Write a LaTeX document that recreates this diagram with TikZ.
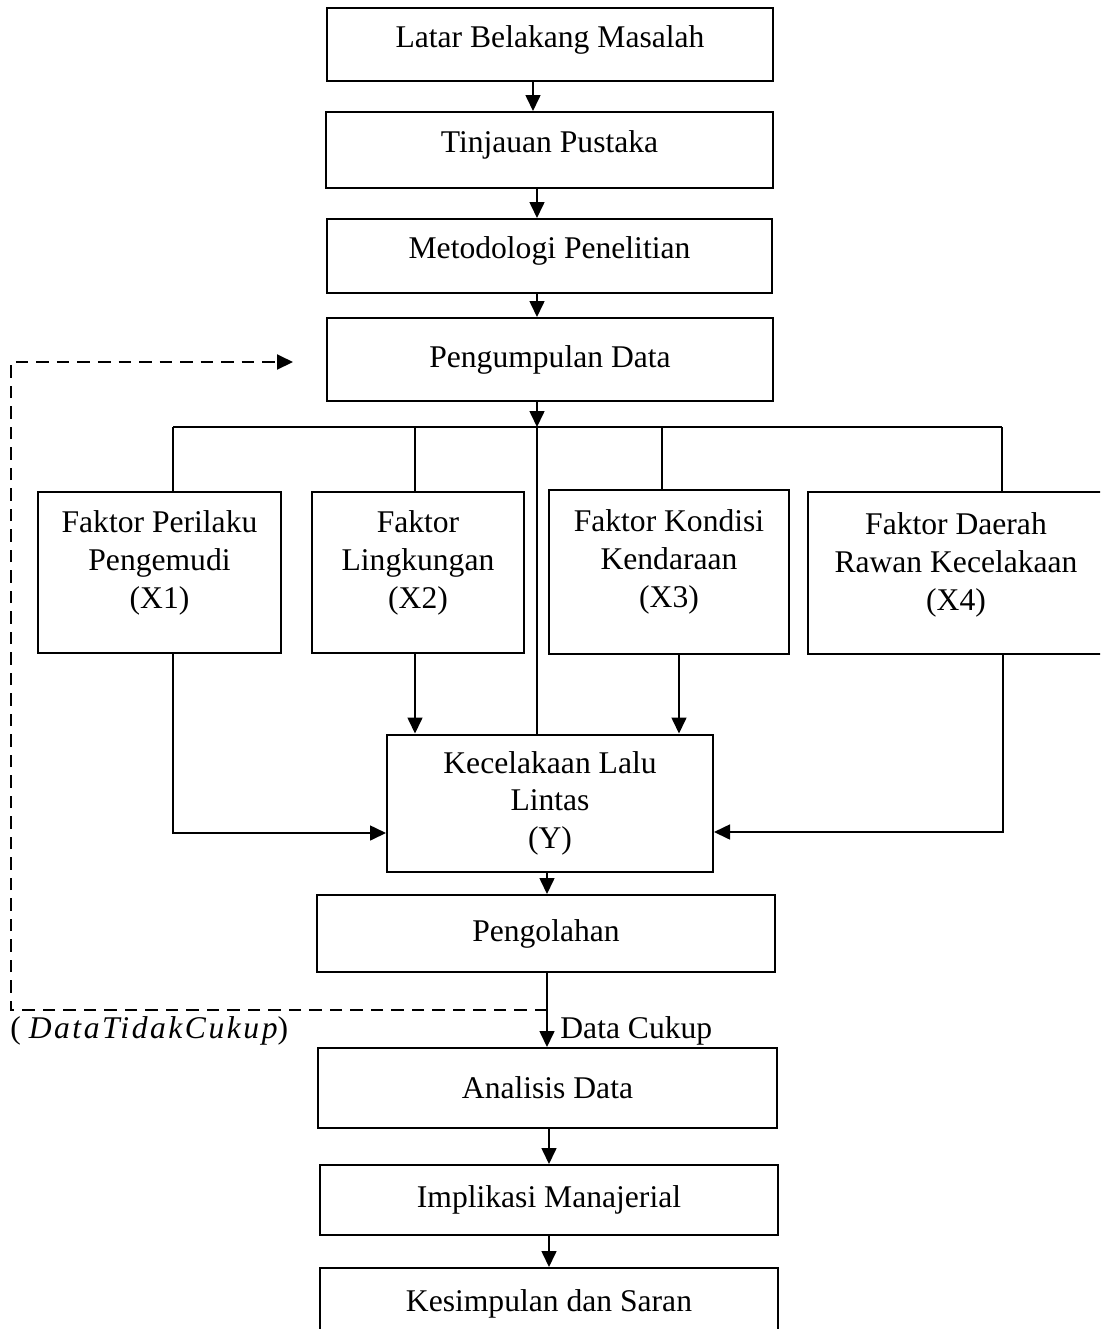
\documentclass[tikz,border=0pt]{standalone}
\usepackage{fontspec}
\setmainfont{Liberation Serif}
\usetikzlibrary{arrows.meta}

\begin{document}
\begin{tikzpicture}[x=0.5pt,y=-0.5pt,>={Triangle[length=8pt,width=7.5pt]},
    every node/.style={font=\fontsize{15.8}{19}\selectfont}]
\clip (0,0) rectangle (1100,1329);
\begin{scope}[every node/.style={rectangle,draw,line width=1pt,inner sep=0pt,
              align=center,font=\fontsize{15.8}{19}\selectfont}]
    \node[minimum width=223pt,minimum height=36.5pt,text depth=8pt] (S1) at (550,44.5) {Latar Belakang Masalah};
    \node[minimum width=223.5pt,minimum height=38pt,text depth=8pt] (S2) at (549.5,150) {Tinjauan Pustaka};
    \node[minimum width=222.5pt,minimum height=37pt,text depth=8pt] (S3) at (549.5,256) {Metodologi Penelitian};
    \node[minimum width=223pt,minimum height=41.5pt] (S4) at (550,359.5) {Pengumpulan Data};
    \node[minimum width=229pt,minimum height=38.5pt] (S5) at (546,933.5) {Pengolahan};
    \node[minimum width=229.5pt,minimum height=40pt] (S6) at (547.5,1088) {Analisis Data};
    \node[minimum width=229pt,minimum height=35pt] (S7) at (549,1200) {Implikasi Manajerial};
    \node[minimum width=229pt,minimum height=36pt] (S8) at (549,1304) {Kesimpulan dan Saran};
\end{scope}
\begin{scope}[every node/.style={rectangle,draw,line width=1pt,inner sep=0pt,
              align=center,font=\fontsize{15.8}{19}\selectfont}]
    \node[minimum width=121.5pt,minimum height=80.5pt] (X1) at (159.5,572.5) {Faktor Perilaku\\Pengemudi\\(X1)\\[-6pt]\mbox{}};
    \node[minimum width=106pt,minimum height=80.5pt] (X2) at (418,572.5) {Faktor\\Lingkungan\\(X2)\\[-6pt]\mbox{}};
    \node[minimum width=120pt,minimum height=82pt] (X3) at (669,572) {Faktor Kondisi\\Kendaraan\\(X3)\\[-6pt]\mbox{}};
    \node[minimum width=148pt,minimum height=81pt] (X4) at (956,573) {Faktor Daerah\\Rawan Kecelakaan\\(X4)\\[-8pt]\mbox{}};
    \node[minimum width=163pt,minimum height=68.5pt,
          font=\fontsize{15.8}{18.7}\selectfont] (Y1) at (550,803) {Kecelakaan Lalu\\Lintas\\(Y)};
\end{scope}
% bus
\coordinate (B0) at (537,427);
\coordinate (B1) at (173,427);
\coordinate (B2) at (415,427);
\coordinate (B3) at (662,427);
\coordinate (B4) at (1002,427);
\begin{scope}[line width=0.6pt]
    \draw (B1) -- (B4);
    \draw (B1) -- (B1 |- X1.north);
    \draw (B2) -- (B2 |- X2.north);
    \draw (B3) -- (B3 |- X3.north);
    \draw (B4) -- (B4 |- X4.north);
    \draw (B0) -- (B0 |- Y1.north);
\end{scope}
\begin{scope}[every edge/.style={draw,line width=0.8pt}]
    \path [->] (S1.south -| 533,0) edge (S2.north -| 533,0);
    \path [->] (S2.south -| 537,0) edge (S3.north -| 537,0);
    \path [->] (S3.south -| 537,0) edge (S4.north -| 537,0);
    \path [->] (S4.south -| B0) edge (B0);
    \path [->] (X2.south -| 415,0) edge (Y1.north -| 415,0);
    \path [->] (X3.south -| 679,0) edge (Y1.north -| 679,0);
    \path [->] (Y1.south -| 547,0) edge (S5.north -| 547,0);
    \path [->] (S5.south -| 547,0) edge (S6.north -| 547,0);
    \path [->] (S6.south -| 549,0) edge (S7.north -| 549,0);
    \path [->] (S7.south -| 549,0) edge (S8.north -| 549,0);
\end{scope}
\draw [->,line width=0.8pt] (X1.south -| 173,0) |- (Y1.west |- 0,833);
\draw [->,line width=0.8pt] (X4.south -| 1003,0) |- (Y1.east |- 0,832);
% data tidak cukup
\coordinate (D1) at (547,1010);
\coordinate (D2) at (11,1010);
\coordinate (D3) at (11,362);
\coordinate (D4) at (293,362);
\draw [->,line width=1pt,dash pattern=on 6.25pt off 4pt] (D1) -- (D2) -- (D3) -- (D4);
\node[anchor=west,inner sep=0pt] (L1) at (560,1031) {Data Cukup};
\node[anchor=west,inner sep=0pt] (L2) at (10,1031) {( {\addfontfeature{LetterSpace=8}\itshape DataTidakCukup})};
\end{tikzpicture}
\end{document}
